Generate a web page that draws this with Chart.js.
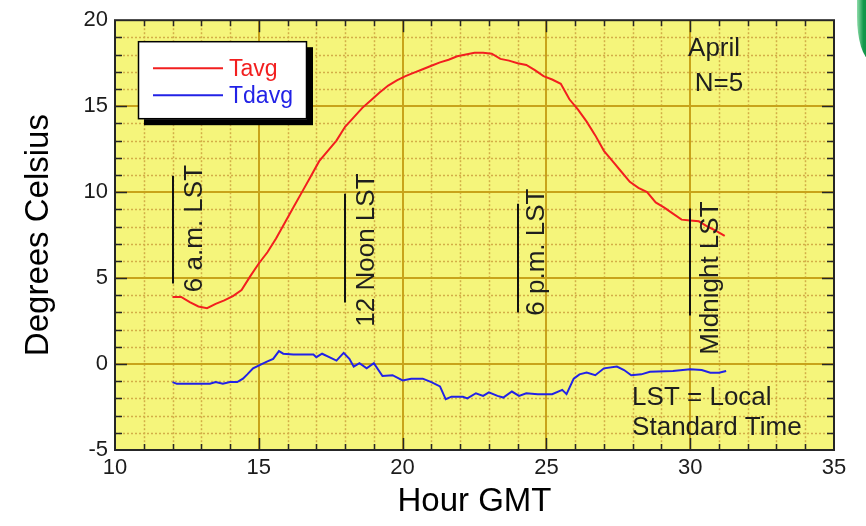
<!DOCTYPE html>
<html><head><meta charset="utf-8">
<script src="https://cdn.jsdelivr.net/npm/chart.js@4.4.1/dist/chart.umd.min.js"></script>
<style>
html,body{margin:0;padding:0;background:#fff;overflow:hidden}
#wrap{position:relative;width:866px;height:526px}
#swoosh{position:absolute;left:857px;top:0;width:14px;height:60px;background:linear-gradient(90deg,#8fdcaa,#14994c 45%,#0b8a40);border-bottom-left-radius:14px 44px}
</style></head>
<body><div id="wrap"><canvas id="c" width="866" height="526"></canvas><div id="swoosh"></div></div>
<script>
// ---- data ----
const tavgHours = [12.0,12.3,12.6,12.9,13.2,13.5,13.8,14.1,14.4,14.7,15.0,15.3,15.6,15.9,16.2,16.5,16.8,17.1,17.4,17.7,18.0,18.3,18.6,18.9,19.2,19.5,19.8,20.1,20.4,20.7,21.0,21.3,21.6,21.9,22.2,22.5,22.8,23.1,23.4,23.7,24.0,24.3,24.6,24.9,25.2,25.5,25.8,26.1,26.4,26.7,27.0,27.3,27.6,27.9,28.2,28.5,28.8,29.1,29.4,29.7,30.0,30.3,30.6,30.9,31.2];
const tavgValues = [3.9,3.9,3.6,3.35,3.25,3.5,3.7,3.95,4.3,5.1,5.85,6.5,7.3,8.2,9.1,10.0,10.9,11.8,12.4,13.0,13.8,14.35,14.9,15.35,15.8,16.2,16.5,16.75,16.95,17.15,17.35,17.55,17.7,17.9,18.0,18.1,18.1,18.05,17.75,17.65,17.5,17.4,17.1,16.75,16.55,16.3,15.4,14.8,14.1,13.3,12.4,11.8,11.2,10.6,10.25,10.0,9.4,9.1,8.75,8.4,8.35,8.3,8.0,7.75,7.45];
const tdavgHours = [12.0,12.15,12.5,12.9,13.3,13.5,13.75,14.0,14.25,14.45,14.6,14.8,15.1,15.3,15.5,15.7,15.85,16.2,16.6,16.9,17.0,17.2,17.45,17.7,17.95,18.15,18.3,18.5,18.75,19.0,19.3,19.65,20.0,20.3,20.7,21.0,21.3,21.5,21.7,22.1,22.25,22.55,22.8,23.0,23.3,23.5,23.8,24.05,24.3,24.7,25.2,25.55,25.7,25.95,26.15,26.4,26.7,27.0,27.45,27.7,27.95,28.3,28.6,29.4,30.0,30.4,30.7,31.0,31.25];
const tdavgValues = [-1.05,-1.15,-1.15,-1.15,-1.15,-1.05,-1.15,-1.05,-1.05,-0.85,-0.6,-0.25,0.0,0.15,0.3,0.75,0.6,0.55,0.55,0.55,0.4,0.6,0.4,0.2,0.65,0.3,-0.15,0.05,-0.25,0.05,-0.7,-0.65,-0.95,-0.85,-0.85,-1.05,-1.3,-2.05,-1.9,-1.9,-2.0,-1.7,-1.85,-1.65,-1.85,-1.95,-1.6,-1.85,-1.7,-1.75,-1.75,-1.5,-1.75,-0.85,-0.6,-0.5,-0.65,-0.25,-0.15,-0.35,-0.65,-0.6,-0.45,-0.4,-0.3,-0.35,-0.5,-0.5,-0.4];
const seriesLabels = ['Tavg','Tdavg'];
const xTickValues = [10,15,20,25,30,35];
const yTickValues = [-5,0,5,10,15,20];
const lstMarkTexts = ['6 a.m. LST','12 Noon LST','6 p.m. LST','Midnight LST'];
const lstMarkHours = [12,18,24,30];

// ---- annotation placement (data units) ----
const lstMarkLayout = [
  {y1:10.95, y2:4.69, ty:7.88, dx:29},
  {y1:9.91,  y2:3.58, ty:6.63, dx:29},
  {y1:9.33,  y2:3.0,  ty:6.51, dx:26},
  {y1:9.04,  y2:2.83, ty:5.0,  dx:28}
];
const noteTexts = [
  {text:'April', x:30.83, y:17.91, align:'center'},
  {text:'N=5', x:31.0, y:15.88, align:'center'},
  {text:'LST = Local', x:27.98, y:-2.39, align:'left'},
  {text:'Standard Time', x:27.98, y:-4.13, align:'left'}
];

const FONT = "'Liberation Sans', Arial, Helvetica, sans-serif";
const RED = '#f21f1f', BLUE = '#2222e6';

function pts(xs, ys){ return xs.map((h,i)=>({x:h, y:ys[i]})); }

function seg(ctx,x1,y1,x2,y2){ ctx.beginPath(); ctx.moveTo(x1,y1); ctx.lineTo(x2,y2); ctx.stroke(); }

const plotDecor = {
  id:'plotDecor',
  beforeDatasetsDraw(chart){
    const {ctx, chartArea:a, scales:{x,y}} = chart;
    ctx.save();
    ctx.fillStyle = '#f5f57b';
    ctx.fillRect(a.left, a.top, a.right-a.left, a.bottom-a.top);
    // minor dotted grid
    ctx.setLineDash([2,2]); ctx.lineWidth = 1.5; ctx.strokeStyle = '#d3ae48';
    for (let v = x.min+1; v < x.max; v++){
      if (v % 5 === 0) continue;
      const p = Math.round(x.getPixelForValue(v))+0.5;
      seg(ctx,p,a.top,p,a.bottom);
    }
    for (let v = y.min+1; v < y.max; v++){
      if (v % 5 === 0) continue;
      const p = Math.round(y.getPixelForValue(v))+0.5;
      seg(ctx,a.left,p,a.right,p);
    }
    // major solid grid
    ctx.setLineDash([]); ctx.lineWidth = 2; ctx.strokeStyle = '#c8a31a';
    xTickValues.forEach(v=>{ if (v===x.min||v===x.max) return; const p=Math.round(x.getPixelForValue(v)); seg(ctx,p,a.top,p,a.bottom); });
    yTickValues.forEach(v=>{ if (v===y.min||v===y.max) return; const p=Math.round(y.getPixelForValue(v)); seg(ctx,a.left,p,a.right,p); });
    ctx.restore();
  },
  afterDatasetsDraw(chart){
    const {ctx, chartArea:a, scales:{x,y}} = chart;
    ctx.save();
    // frame
    ctx.strokeStyle = '#262626'; ctx.lineWidth = 2;
    ctx.strokeRect(a.left, a.top, a.right-a.left, a.bottom-a.top);
    // inward tick marks
    ctx.lineWidth = 1.5;
    for (let v = x.min+1; v < x.max; v++){
      const p = Math.round(x.getPixelForValue(v))+0.5;
      const L = v%5===0 ? 12 : 6;
      seg(ctx,p,a.bottom,p,a.bottom-L);
      seg(ctx,p,a.top,p,a.top+L);
    }
    for (let v = y.min+1; v < y.max; v++){
      const p = Math.round(y.getPixelForValue(v))+0.5;
      const L = v%5===0 ? 12 : 7;
      seg(ctx,a.left,p,a.left+L,p);
      seg(ctx,a.right,p,a.right-L,p);
    }
    // LST markers
    ctx.strokeStyle = '#111'; ctx.lineWidth = 2; ctx.fillStyle = '#1e1e1e';
    ctx.font = '26px ' + FONT;
    lstMarkHours.forEach((h,i)=>{
      const m = lstMarkLayout[i];
      const px = Math.round(x.getPixelForValue(h));
      seg(ctx,px,y.getPixelForValue(m.y1),px,y.getPixelForValue(m.y2));
      ctx.save();
      ctx.translate(px+m.dx, y.getPixelForValue(m.ty));
      ctx.rotate(-Math.PI/2);
      ctx.textAlign = 'center'; ctx.textBaseline = 'alphabetic';
      ctx.fillText(lstMarkTexts[i],0,0);
      ctx.restore();
    });
    // notes
    noteTexts.forEach(n=>{
      ctx.textAlign = n.align; ctx.textBaseline = 'alphabetic';
      ctx.fillText(n.text, x.getPixelForValue(n.x), y.getPixelForValue(n.y));
    });
    // legend box
    const lx = a.left+23, ly = a.top+21, lw = 169, lh = 78;
    ctx.fillStyle = '#000';
    ctx.fillRect(lx+6, ly+6, lw, lh);
    ctx.fillStyle = '#fff';
    ctx.fillRect(lx, ly, lw, lh);
    ctx.strokeStyle = '#000'; ctx.lineWidth = 1.5;
    ctx.strokeRect(lx+0.5, ly+0.5, lw-1, lh-1);
    ctx.font = '23px ' + FONT; ctx.textAlign = 'left'; ctx.textBaseline = 'alphabetic';
    chart.data.datasets.forEach((ds,i)=>{
      const yy = ly + 27 + i*27;
      ctx.strokeStyle = ds.borderColor; ctx.lineWidth = 2;
      seg(ctx, lx+15, yy, lx+85, yy);
      ctx.fillStyle = ds.borderColor;
      ctx.fillText(ds.label, lx+91, yy+8);
    });
    ctx.restore();
  }
};

new Chart(document.getElementById('c'), {
  type:'line',
  data:{ datasets:[
    {label:seriesLabels[0], data:pts(tavgHours,tavgValues), borderColor:RED, borderWidth:2, pointRadius:0, tension:0, fill:false},
    {label:seriesLabels[1], data:pts(tdavgHours,tdavgValues), borderColor:BLUE, borderWidth:2, pointRadius:0, tension:0, fill:false}
  ]},
  options:{
    responsive:false, animation:false, devicePixelRatio:1,
    layout:{padding:{left:0, top:19, right:32, bottom:0}},
    plugins:{legend:{display:false}, tooltip:{enabled:false}},
    scales:{
      x:{type:'linear', min:10, max:35,
        afterBuildTicks(s){ s.ticks = xTickValues.map(v=>({value:v})); },
        afterFit(s){ s.height = 76; },
        grid:{display:false, drawTicks:false}, border:{display:false},
        ticks:{padding:5, color:'#1c1c1c', font:{family:FONT, size:22}, maxRotation:0, autoSkip:false},
        title:{display:true, text:'Hour GMT', color:'#000', font:{family:FONT, size:33}, padding:{top:0,bottom:4}}
      },
      y:{type:'linear', min:-5, max:20,
        afterBuildTicks(s){ s.ticks = yTickValues.map(v=>({value:v})); },
        afterFit(s){ s.width = 115; },
        grid:{display:false, drawTicks:false}, border:{display:false},
        ticks:{padding:7, color:'#1c1c1c', font:{family:FONT, size:22}, autoSkip:false},
        title:{display:true, text:'Degrees Celsius', color:'#000', font:{family:FONT, size:33}, padding:{top:19,bottom:0}}
      }
    }
  },
  plugins:[plotDecor]
});
</script>
</body></html>
